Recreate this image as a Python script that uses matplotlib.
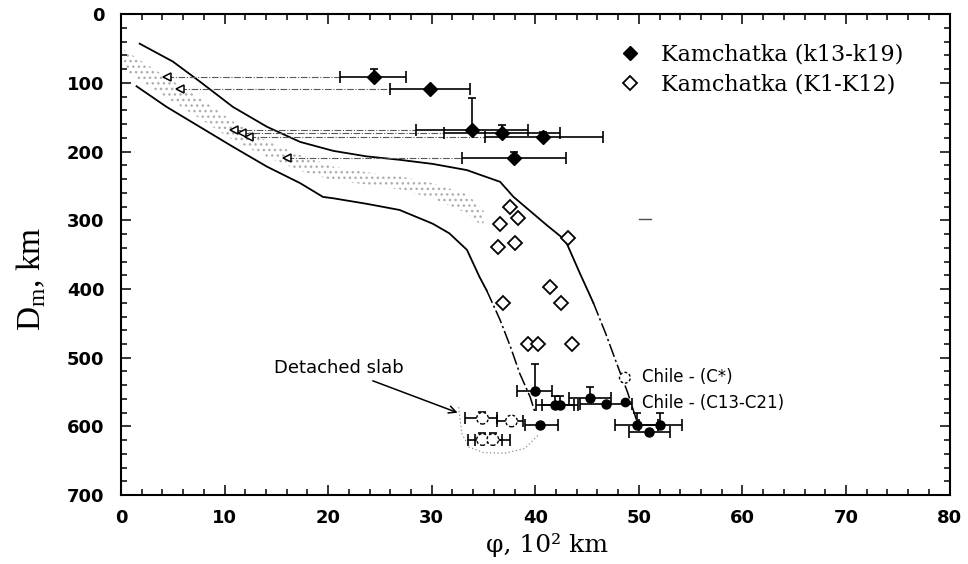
import matplotlib
matplotlib.use("Agg")
import matplotlib.pyplot as plt
from matplotlib.lines import Line2D
from matplotlib.ticker import MultipleLocator
import numpy as np

# === Kamchatka (k13-k19): filled diamonds with error bars ===
kam_fill_x = [24.4, 29.8, 33.9, 36.8, 40.7, 37.9]
kam_fill_y = [92, 109, 168, 173, 179, 210]
kam_fill_xlo = [21.1, 26.0, 28.5, 31.2, 35.1, 32.9]
kam_fill_xhi = [27.5, 33.7, 39.3, 42.4, 46.5, 43.0]
kam_fill_up = [12, 0, 46, 11, 8, 10]
# open triangles at the same depths, joined to the diamonds
kam_tri_x = [4.4, 5.7, 10.9, 11.7, 12.4, 16.0]

# === Kamchatka (K1-K12): open diamonds ===
kam_open_x = [37.6, 38.3, 36.6, 43.2, 38.0, 36.4, 41.4, 42.5, 36.9, 39.3, 40.3, 43.5]
kam_open_y = [280, 296, 306, 326, 333, 339, 397, 421, 420, 480, 480, 480]

# === Chile (C13-C21): filled circles ===
chile_x = [40.0, 41.9, 42.4, 40.5, 45.3, 46.8, 49.8, 52.0, 51.0]
chile_y = [549, 569, 569, 598, 558, 568, 598, 598, 608]
chile_xlo = [38.2, 40.1, 40.6, 39.0, 43.3, 44.3, 47.7, 50.0, 49.0]
chile_xhi = [41.6, 43.7, 44.1, 42.2, 47.3, 49.3, 51.8, 54.2, 53.0]
chile_up = [40, 14, 14, 0, 15, 0, 18, 18, 0]

# === Chile (C*): detached slab, dashed open circles ===
cstar_x = [34.9, 37.7, 34.9, 35.9]
cstar_y = [588, 592, 619, 619]
cstar_xlo = [33.2, 36.3, 33.5, 34.2]
cstar_xhi = [36.3, 38.8, 36.8, 37.6]
cstar_up = [9, 0, 10, 10]

# === slab boundary curves ===
upper_x = [1.8, 5.0, 7.6, 10.8, 14.1, 17.3, 20.5, 23.7, 26.9, 30.1, 33.4, 34.7, 36.6,
           37.9, 41.1, 42.9, 44.3, 45.6, 46.8, 47.9, 48.9, 49.8]
upper_y = [43, 69, 98, 135, 164, 186, 199, 207, 212, 218, 227, 234, 244,
           266, 307, 329, 377, 420, 465, 510, 550, 592]
lower_x = [1.5, 4.4, 7.6, 10.8, 14.1, 17.3, 19.5, 20.5, 23.7, 26.9, 28.5, 30.1, 31.7,
           33.4, 34.6, 35.3, 36.6, 37.6, 38.5, 39.5, 40.0]
lower_y = [105, 135, 164, 193, 222, 246, 266, 268, 276, 285, 295, 305, 319,
           343, 382, 402, 445, 484, 523, 557, 581]

# stippled band
band_x = [0.3, 4.0, 7.6, 11.0, 14.1, 17.3, 20.5, 23.7, 26.9, 30.1, 33.4, 35.0]
band_top = [52, 88, 122, 158, 185, 205, 222, 230, 236, 246, 262, 285]
band_bot = [82, 118, 152, 185, 208, 228, 242, 248, 255, 268, 290, 310]

# dotted outline under the detached slab
slab_x = [32.6, 32.9, 33.6, 35.0, 37.0, 39.0, 40.3]
slab_y = [572, 610, 630, 638, 639, 632, 612]

# short stray dash right of the slab
dash_x = [50.0, 51.2]
dash_y = [298, 298]

fig = plt.figure(figsize=(9.68, 5.64), dpi=100)
ax = fig.add_axes([0.125, 0.122, 0.856, 0.853])

# band of small dots
ax.fill_between(band_x, band_top, band_bot, facecolor="none", edgecolor="0.68",
                linewidth=0, hatch="...")

# boundary curves: solid above, dash-dot in the deep part
ax.plot(upper_x[:18], upper_y[:18], color="k", lw=1.3)
ax.plot(upper_x[17:], upper_y[17:], color="k", lw=1.1, ls=(0, (9, 2, 1.5, 2)))
ax.plot(lower_x[:16], lower_y[:16], color="k", lw=1.3)
ax.plot(lower_x[15:], lower_y[15:], color="k", lw=1.1, ls=(0, (9, 2, 1.5, 2)))
ax.plot(slab_x, slab_y, color="0.55", lw=0.9, ls=(0, (1, 2)))
ax.plot(dash_x, dash_y, color="0.3", lw=1.0)

# thin links from triangles to the diamonds
for tx, lo, y in zip(kam_tri_x, kam_fill_xlo, kam_fill_y):
    ax.plot([tx, lo], [y, y], color="0.35", lw=0.8, ls=(0, (6, 1.5, 1, 1.5)))
ax.plot(kam_tri_x, kam_fill_y, ls="none", marker="<", ms=6, mfc="white",
        mec="k", mew=1.1)

# error bars
def draw_errors(x, y, lo, hi, up):
    x = np.array(x)
    y = np.array(y)
    lo = np.array(lo)
    hi = np.array(hi)
    up = np.array(up)
    ax.errorbar(x, y, xerr=[x - lo, hi - x], fmt="none", ecolor="k",
                elinewidth=1.2, capsize=4, capthick=1.2)
    m = up > 0
    ax.errorbar(x[m], y[m], yerr=[up[m], np.zeros(m.sum())], fmt="none",
                ecolor="k", elinewidth=1.2, capsize=3, capthick=1.2)

draw_errors(kam_fill_x, kam_fill_y, kam_fill_xlo, kam_fill_xhi, kam_fill_up)
draw_errors(chile_x, chile_y, chile_xlo, chile_xhi, chile_up)
draw_errors(cstar_x, cstar_y, cstar_xlo, cstar_xhi, cstar_up)

ax.plot(kam_fill_x, kam_fill_y, ls="none", marker="D", ms=7, color="k")
ax.plot(kam_open_x, kam_open_y, ls="none", marker="D", ms=7, mfc="white",
        mec="k", mew=1.3)
ax.plot(chile_x, chile_y, ls="none", marker="o", ms=6.5, color="k")
ax.scatter(cstar_x, cstar_y, s=70, facecolors="white", edgecolors="k",
           linewidths=1.0, linestyles=(0, (2, 1.5)), zorder=3)

# annotation for the detached slab
ax.annotate("Detached slab", xy=(32.5, 580), xytext=(27.3, 515),
            ha="right", va="center", fontsize=13, family="DejaVu Sans",
            arrowprops=dict(arrowstyle="->", color="k", lw=1.1,
                            shrinkA=2, shrinkB=0))

# legends
kam_handles = [
    Line2D([], [], ls="none", marker="D", ms=7, color="k"),
    Line2D([], [], ls="none", marker="D", ms=7, mfc="white", mec="k", mew=1.3),
]
leg1 = ax.legend(kam_handles, ["Kamchatka (k13-k19)", "Kamchatka (K1-K12)"],
                 loc="upper left", bbox_to_anchor=(0.59, 0.957), frameon=False,
                 handlelength=1.0, handletextpad=0.9, labelspacing=0.35,
                 borderaxespad=0, prop={"family": "DejaVu Serif", "size": 16})
ax.add_artist(leg1)
cstar_handle = ax.scatter([], [], s=60, facecolors="white", edgecolors="k",
                          linewidths=1.0, linestyles=(0, (2, 1.5)))
chile_handles = [
    cstar_handle,
    Line2D([], [], ls="none", marker="o", ms=6, color="k"),
]
ax.legend(chile_handles, ["Chile - (C*)", "Chile - (C13-C21)"],
          loc="upper left", bbox_to_anchor=(0.59, 0.278), frameon=False,
          handlelength=1.0, handletextpad=0.5, labelspacing=0.45,
          borderaxespad=0, scatterpoints=1,
          prop={"family": "DejaVu Sans", "size": 12})

# axes
ax.set_xlim(0, 80)
ax.set_ylim(700, 0)
ax.xaxis.set_major_locator(MultipleLocator(10))
ax.xaxis.set_minor_locator(MultipleLocator(2))
ax.yaxis.set_major_locator(MultipleLocator(100))
ax.yaxis.set_minor_locator(MultipleLocator(20))
ax.tick_params(which="both", direction="in", top=True, right=True, width=1.1)
ax.tick_params(which="major", length=7)
ax.tick_params(which="minor", length=4)
ax.tick_params(axis="y", pad=12)
ax.tick_params(axis="x", pad=10)
for lab in ax.get_xticklabels() + ax.get_yticklabels():
    lab.set_family("DejaVu Sans")
    lab.set_fontweight("bold")
    lab.set_fontsize(13)
for sp in ax.spines.values():
    sp.set_linewidth(1.5)

ax.set_xlabel("φ, 10² km", family="DejaVu Serif", fontsize=18)
ax.xaxis.set_label_coords(0.514, -0.078)
ax.set_ylabel(r"D$_\mathregular{m}$, km", family="Liberation Serif", fontsize=24)
ax.yaxis.set_label_coords(-0.088, 0.45)

fig.savefig("out.png", dpi=100)
